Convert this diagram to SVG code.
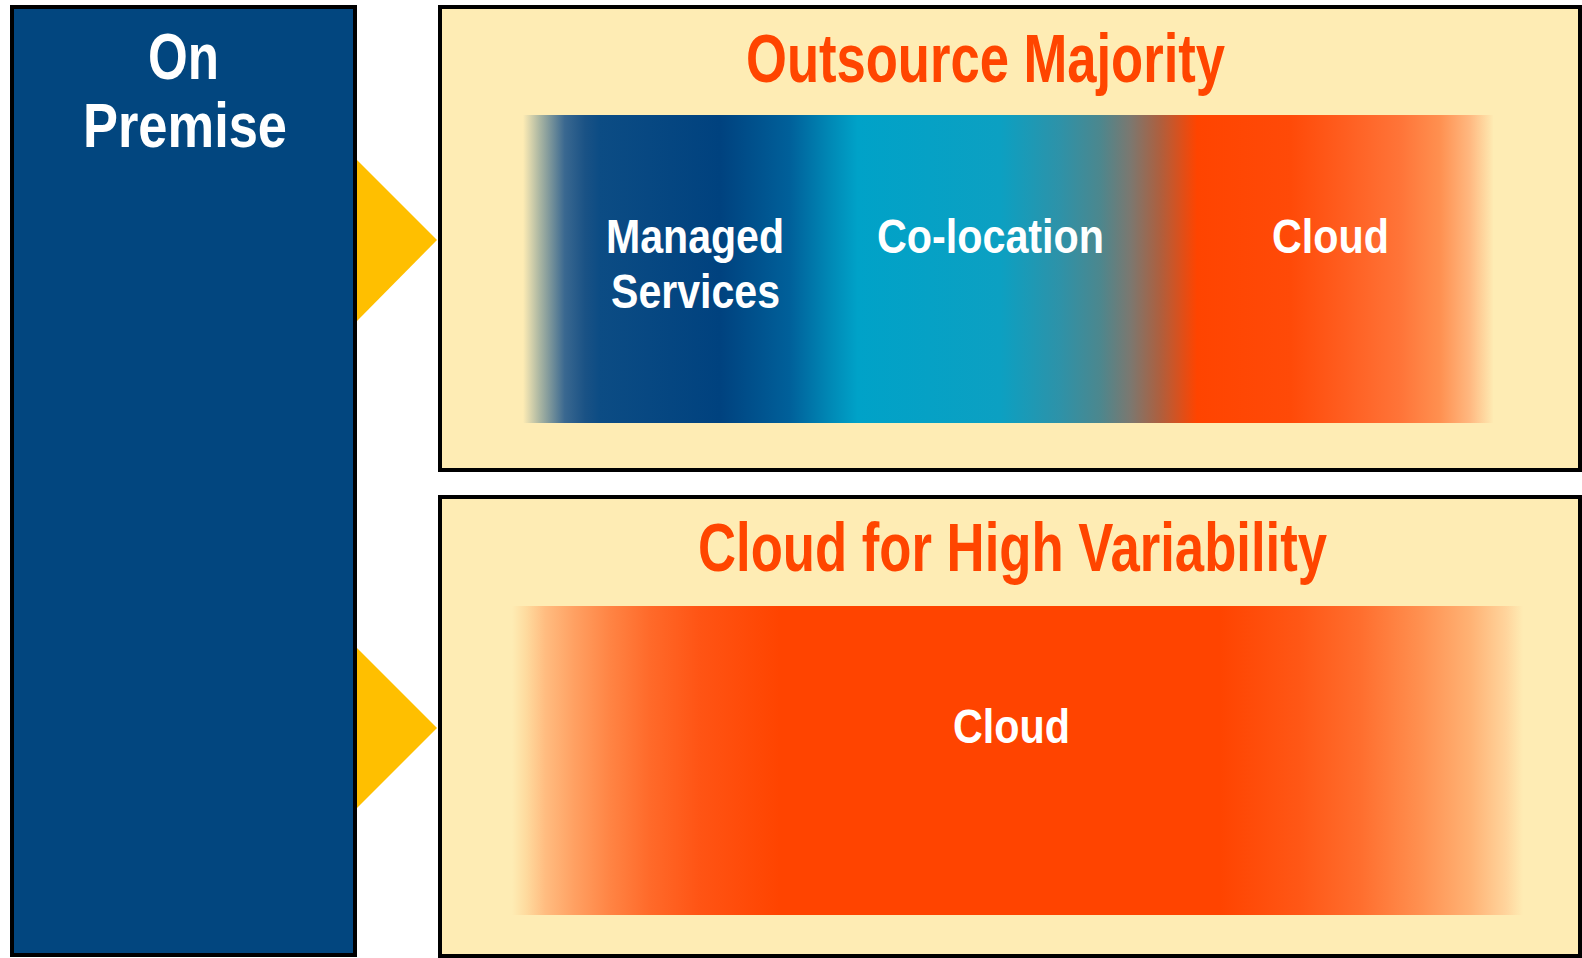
<svg xmlns="http://www.w3.org/2000/svg" width="1582" height="958" viewBox="0 0 1582 958">
  <defs>
    <style>
      .box { stroke: #000000; stroke-width: 4; }
      .txt { font-family: "Liberation Sans", Arial, sans-serif; font-weight: bold; }
      .white { fill: #FFFFFF; }
      .title { fill: #FF4500; }
      .arrow { fill: #FFBF00; }
    </style>
    <linearGradient id="gradTop" gradientUnits="userSpaceOnUse" x1="523" y1="0" x2="1493" y2="0">
      <stop offset="0" stop-color="#FEECB4"/>
      <stop offset="0.0175" stop-color="#A9B5A2"/>
      <stop offset="0.043" stop-color="#3A6890"/>
      <stop offset="0.064" stop-color="#1A5285"/>
      <stop offset="0.079" stop-color="#0C4C84"/>
      <stop offset="0.203" stop-color="#00427F"/>
      <stop offset="0.275" stop-color="#00609A"/>
      <stop offset="0.316" stop-color="#0088B5"/>
      <stop offset="0.345" stop-color="#00A2C8"/>
      <stop offset="0.492" stop-color="#0CA0C2"/>
      <stop offset="0.554" stop-color="#2E92A8"/>
      <stop offset="0.595" stop-color="#4C878E"/>
      <stop offset="0.626" stop-color="#7B7870"/>
      <stop offset="0.657" stop-color="#AE5F3E"/>
      <stop offset="0.695" stop-color="#FF4400"/>
      <stop offset="0.791" stop-color="#FF4A08"/>
      <stop offset="0.842" stop-color="#FF5C1E"/>
      <stop offset="0.904" stop-color="#FF7438"/>
      <stop offset="0.945" stop-color="#FF9050"/>
      <stop offset="0.976" stop-color="#FFB880"/>
      <stop offset="1" stop-color="#FEEAB2"/>
    </linearGradient>
    <linearGradient id="gradBottom" gradientUnits="userSpaceOnUse" x1="512" y1="0" x2="1523" y2="0">
      <stop offset="0" stop-color="#FEECB4"/>
      <stop offset="0.013" stop-color="#FEDCA0"/>
      <stop offset="0.033" stop-color="#FFBC80"/>
      <stop offset="0.062" stop-color="#FFA062"/>
      <stop offset="0.097" stop-color="#FF8444"/>
      <stop offset="0.136" stop-color="#FF6A2A"/>
      <stop offset="0.186" stop-color="#FF5414"/>
      <stop offset="0.265" stop-color="#FF4400"/>
      <stop offset="0.700" stop-color="#FF4400"/>
      <stop offset="0.779" stop-color="#FF5716"/>
      <stop offset="0.839" stop-color="#FF6E2E"/>
      <stop offset="0.898" stop-color="#FF9050"/>
      <stop offset="0.948" stop-color="#FFB274"/>
      <stop offset="0.983" stop-color="#FFD49C"/>
      <stop offset="1" stop-color="#FEECB4"/>
    </linearGradient>
  </defs>

  <rect x="0" y="0" width="1582" height="958" fill="#FFFFFF"/>

  <g id="on-premise">
    <rect class="box" x="12" y="7" width="343" height="948" fill="#02467F"/>
    <text class="txt white" x="148" y="79" font-size="64" textLength="71" lengthAdjust="spacingAndGlyphs">On</text>
    <text class="txt white" x="83" y="147" font-size="63" textLength="204" lengthAdjust="spacingAndGlyphs">Premise</text>
  </g>

  <g id="outsource-majority">
    <rect class="box" x="440" y="7" width="1140" height="463" fill="#FEECB4"/>
    <text class="txt title" x="746" y="82" font-size="68" textLength="479" lengthAdjust="spacingAndGlyphs">Outsource Majority</text>
    <rect x="523" y="115" width="970" height="308" fill="url(#gradTop)"/>
    <g id="managed-services">
      <text class="txt white" x="606" y="253" font-size="49" textLength="178" lengthAdjust="spacingAndGlyphs">Managed</text>
      <text class="txt white" x="611" y="308" font-size="49" textLength="169" lengthAdjust="spacingAndGlyphs">Services</text>
    </g>
    <g id="co-location">
      <text class="txt white" x="877" y="253" font-size="49" textLength="227" lengthAdjust="spacingAndGlyphs">Co-location</text>
    </g>
    <g id="cloud-top">
      <text class="txt white" x="1272" y="253" font-size="49" textLength="117" lengthAdjust="spacingAndGlyphs">Cloud</text>
    </g>
  </g>

  <g id="cloud-high-variability">
    <rect class="box" x="440" y="497" width="1140" height="459" fill="#FEECB4"/>
    <text class="txt title" x="698" y="571" font-size="68" textLength="629" lengthAdjust="spacingAndGlyphs">Cloud for High Variability</text>
    <rect x="512" y="606" width="1011" height="309" fill="url(#gradBottom)"/>
    <g id="cloud-bottom">
      <text class="txt white" x="953" y="743" font-size="49" textLength="117" lengthAdjust="spacingAndGlyphs">Cloud</text>
    </g>
  </g>

  <g id="connectors">
    <polygon class="arrow" points="357,160 437,240 357,321"/>
    <polygon class="arrow" points="357,648 437,728 357,808"/>
  </g>
</svg>
